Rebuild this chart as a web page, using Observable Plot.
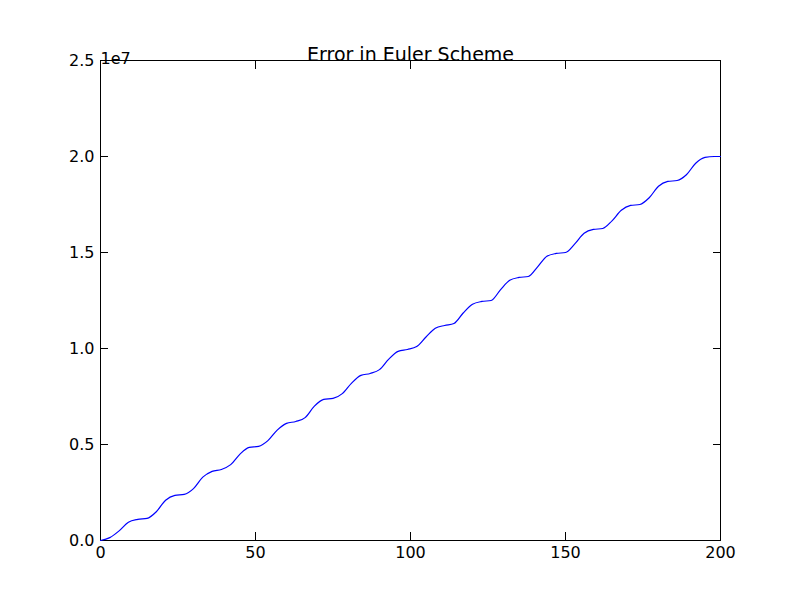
<!DOCTYPE html>
<html>
<head>
<meta charset="utf-8">
<script src="https://cdn.jsdelivr.net/npm/d3@7"></script>
<script src="https://cdn.jsdelivr.net/npm/@observablehq/plot@0.6"></script>
<style>
  body { margin: 0; background: #fff; }
</style>
</head>
<body>
<div id="chart"></div>
<script>
// time steps and error (in units of 1e6)
let steps = [0,3,6,9,12,15,18,21,24,27,30,33,36,39,42,45,48,51,54,57,60,63,66,69,72,75,78,81,84,87,90,93,96,99,102,105,108,111,114,117,120,123,126,129,132,135,138,141,144,147,150,153,156,159,162,165,168,171,174,177,180,183,186,189,192,195,198,200];
let errorM = [0,0.15,0.5,0.95,1.1,1.15,1.5,2.1,2.35,2.4,2.7,3.3,3.6,3.7,3.95,4.5,4.85,4.9,5.2,5.75,6.1,6.2,6.4,7.0,7.35,7.4,7.65,8.2,8.6,8.7,8.9,9.45,9.85,9.95,10.1,10.6,11.05,11.2,11.3,11.85,12.3,12.45,12.5,13.05,13.55,13.7,13.75,14.25,14.8,14.95,15.0,15.45,16.0,16.2,16.25,16.65,17.2,17.45,17.5,17.85,18.45,18.7,18.75,19.05,19.65,19.95,20.0,20.0];
let xTicks = [0,50,100,150,200];
let yTicks = [0,5e6,10e6,15e6,20e6,25e6];

let data = steps.map((s, i) => ({step: s, error: errorM[i] * 1e6}));
let noLabel = () => "";

let chart = Plot.plot({
  width: 800,
  height: 600,
  marginLeft: 100,
  marginRight: 80,
  marginTop: 60,
  marginBottom: 60,
  style: {fontFamily: "DejaVu Sans", fontSize: "16px", color: "#000", background: "#fff"},
  x: {domain: [0, 200]},
  y: {domain: [0, 2.5e7]},
  marks: [
    Plot.frame({stroke: "#000"}),
    Plot.axisX(xTicks, {tickSize: -8, tickPadding: 14, label: null, fontSize: 16}),
    Plot.axisX(xTicks, {anchor: "top", tickSize: -8, tickFormat: noLabel, label: null}),
    Plot.axisY(yTicks, {tickSize: -8, tickPadding: 14, label: null, tickFormat: (d) => (d / 1e7).toFixed(1), fontSize: 16}),
    Plot.axisY(yTicks, {anchor: "right", tickSize: -8, tickFormat: noLabel, label: null}),
    Plot.line(data, {x: "step", y: "error", stroke: "#0000ff", strokeWidth: 1.2, curve: "monotone-x"}),
    Plot.text(["Error in Euler Scheme"], {frameAnchor: "top", dy: -13, fontSize: 19, fill: "#000"}),
    Plot.text(["1e7"], {frameAnchor: "top-left", dy: -8, dx: 0, textAnchor: "start", fontSize: 16, fill: "#000"})
  ]
});
document.getElementById("chart").append(chart);
</script>
</body>
</html>
